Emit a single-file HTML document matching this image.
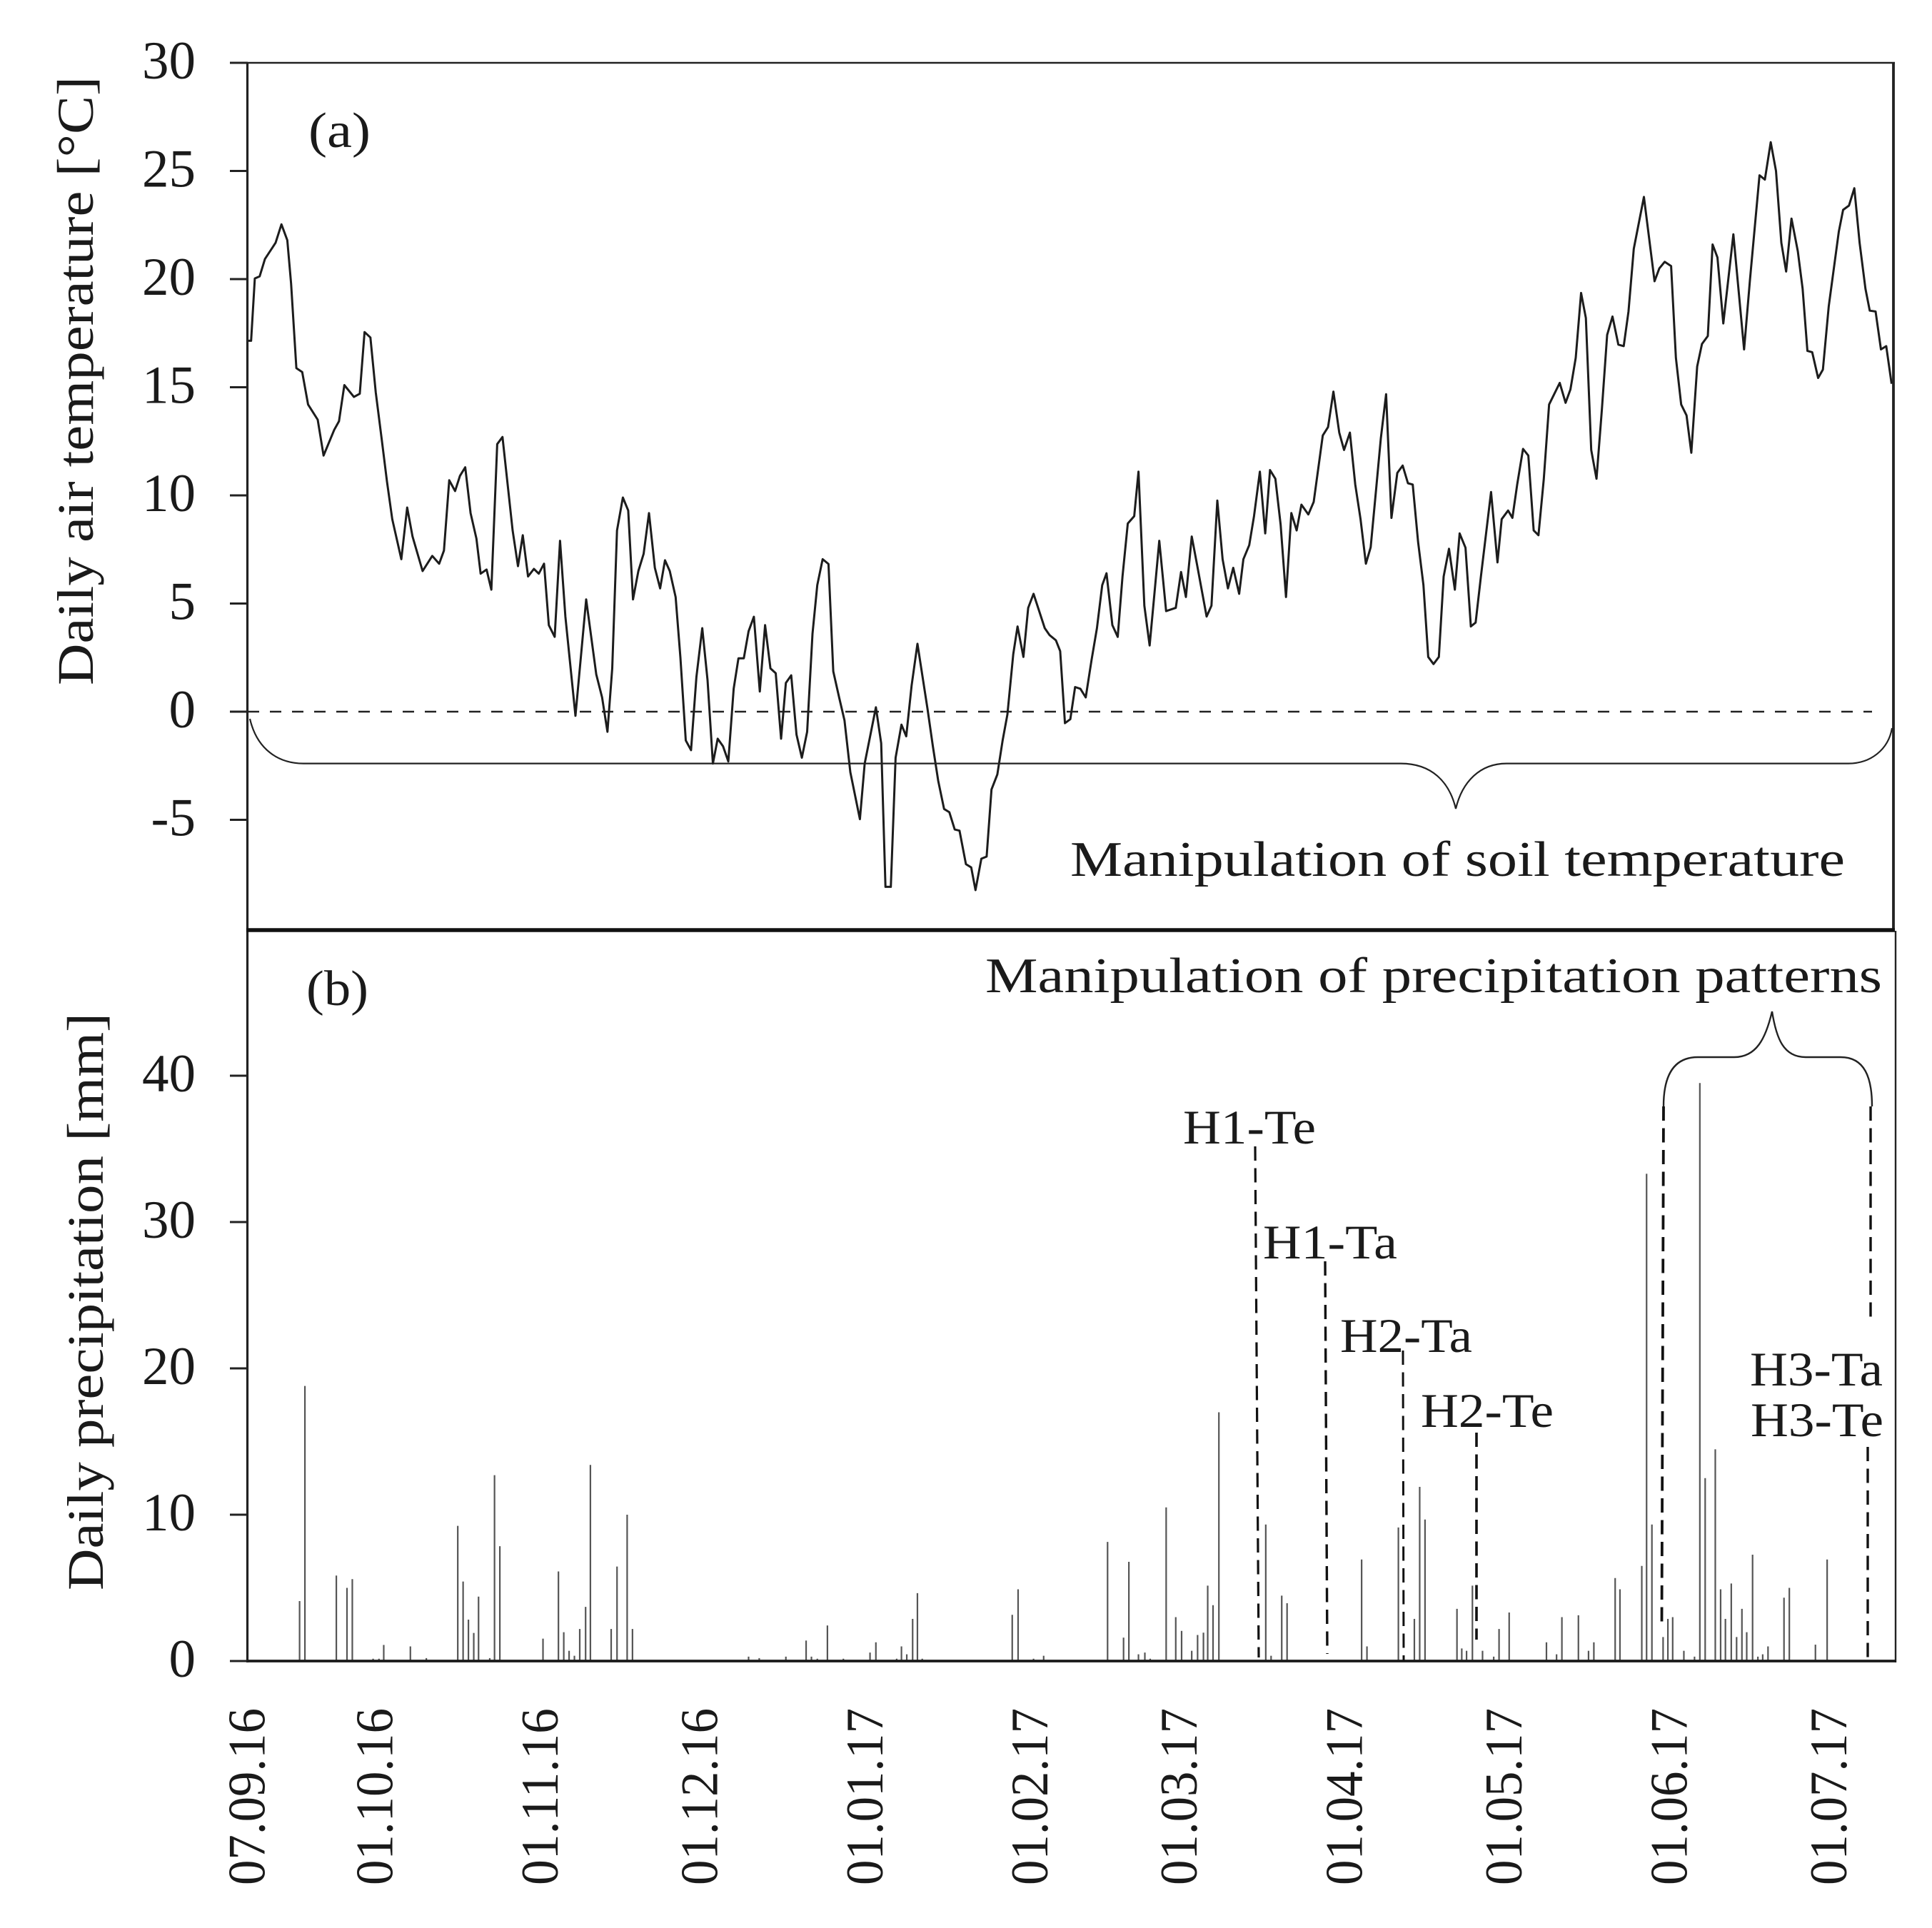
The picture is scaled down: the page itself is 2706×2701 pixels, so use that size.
<!DOCTYPE html>
<html lang="en">
<head>
<meta charset="utf-8">
<title>Daily air temperature and precipitation</title>
<style>
html,body{margin:0;padding:0;background:#fff;width:2706px;height:2701px;overflow:hidden}
svg{display:block;position:absolute;left:0;top:0}
text{font-family:"Liberation Serif",serif;fill:#1a1a1a}
</style>
</head>
<body>
<svg id="chart" xmlns="http://www.w3.org/2000/svg" width="2706" height="2701" viewBox="0 0 2706 2701">
  <rect x="0" y="0" width="2706" height="2701" fill="#fff"/>
  <g id="bars"></g>
  <line x1="347" y1="997" x2="2622" y2="997" stroke="#222" stroke-width="2.4" stroke-dasharray="16 15"/>
  <path id="temp-line" fill="none" stroke="#1c1c1c" stroke-width="3" stroke-linejoin="round"/>

  <g stroke="#222" fill="none">
    <line x1="345" y1="88" x2="2654" y2="88" stroke-width="2.6"/>
    <line x1="346.5" y1="87" x2="346.5" y2="2329" stroke-width="3.2"/>
    <line x1="2652" y1="87" x2="2652" y2="1304" stroke-width="3.8"/>
    <line x1="345" y1="1303" x2="2654" y2="1303" stroke-width="5.5" stroke="#111"/>
    <line x1="2655" y1="1304" x2="2655" y2="2329" stroke-width="2.4"/>
    <line x1="345" y1="2327" x2="2656" y2="2327" stroke-width="3.8" stroke="#1a1a1a"/>
  </g>

  <g id="ticks"></g>
  <g id="labels"></g>

  <text transform="translate(130,960) rotate(-90)" font-size="72" textLength="853" lengthAdjust="spacingAndGlyphs">Daily air temperature [°C]</text>
  <text transform="translate(144,2228) rotate(-90)" font-size="72" textLength="809" lengthAdjust="spacingAndGlyphs">Daily precipitation [mm]</text>

  <text x="432" y="206" font-size="70" textLength="87" lengthAdjust="spacingAndGlyphs">(a)</text>
  <text x="429" y="1408" font-size="70" textLength="87" lengthAdjust="spacingAndGlyphs">(b)</text>

  <path fill="none" stroke="#222" stroke-width="2.2" d="M350 1007 C360 1050 390 1069.6 425 1069.6 L1962 1069.6 C2005 1069.6 2030 1095 2039 1133 C2048 1095 2073 1069.6 2110 1069.6 L2589 1069.6 C2620 1069.6 2645 1050 2650 1020"/>
  <text x="1499" y="1227" font-size="70" textLength="1085" lengthAdjust="spacingAndGlyphs">Manipulation of soil temperature</text>

  <text x="1380" y="1390" font-size="70" textLength="1256" lengthAdjust="spacingAndGlyphs">Manipulation of precipitation patterns</text>
  <path fill="none" stroke="#222" stroke-width="2.4" d="M2330 1550 C2330 1510 2342 1481 2378 1481 L2429 1481 C2460 1481 2473 1455 2482 1417 C2488 1455 2498 1481 2529 1481 L2578 1481 C2612 1481 2622 1510 2622 1550"/>

  <g fill="none" stroke="#111" stroke-dasharray="20 10.5">
    <line x1="1758" y1="1606" x2="1763" y2="2322" stroke-width="3.2"/>
    <line x1="1856" y1="1767" x2="1859" y2="2317" stroke-width="3.4"/>
    <line x1="1965" y1="1892" x2="1966" y2="2327" stroke-width="3"/>
    <line x1="2068" y1="2007" x2="2068" y2="2297" stroke-width="3.6"/>
    <line x1="2330" y1="1550" x2="2327.5" y2="2273" stroke-width="3.8"/>
    <line x1="2620" y1="1550" x2="2620" y2="1851" stroke-width="3.4"/>
    <line x1="2616" y1="2027" x2="2616" y2="2326" stroke-width="3.4"/>
  </g>

  <g font-size="68">
    <text x="1657" y="1602" textLength="186" lengthAdjust="spacingAndGlyphs">H1-Te</text>
    <text x="1769" y="1763" textLength="188" lengthAdjust="spacingAndGlyphs">H1-Ta</text>
    <text x="1877" y="1894" textLength="185" lengthAdjust="spacingAndGlyphs">H2-Ta</text>
    <text x="1990" y="1999" textLength="186" lengthAdjust="spacingAndGlyphs">H2-Te</text>
    <text x="2451" y="1941" textLength="186" lengthAdjust="spacingAndGlyphs">H3-Ta</text>
    <text x="2452" y="2012" textLength="186" lengthAdjust="spacingAndGlyphs">H3-Te</text>
  </g>
</svg>

<script>
const tempDays = [0,0.7,1.4,2.3,3.3,5.3,6.4,7.5,8.2,9.2,10.3,11.4,13.2,14.3,16.3,17.2,18.2,20,21.1,22,23.1,24.1,25.2,26.2,27.2,28.9,30,31,32.9,34.7,36,36.9,37.9,39,39.9,40.9,41.9,43,43.8,44.9,45.8,46.9,47.9,49.8,50.8,51.7,52.7,53.8,54.7,55.7,56.6,57.7,58.7,59.7,61.6,63.6,65.5,66.6,67.6,68.5,69.4,70.5,71.5,72.4,73.4,74.4,75.4,76.5,77.5,78.4,79.3,80.4,81.3,82.3,83.3,84.3,85.4,86.4,87.4,88.3,89.3,90.3,91.3,92.2,93.2,94.1,95.1,96.2,97.2,98.2,99.2,100.2,101.1,102.1,103.1,104.1,105.1,106.1,107,108,109.1,110,111.1,112.1,113.2,115,115.9,118,119,119.8,120.8,121.7,122.8,123.7,124.7,125.8,127.7,128.7,129.7,130.8,131.8,132.8,133.7,134.9,135.9,136.7,137.8,138.8,139.7,140.8,141.8,142.7,143.8,144.6,145.7,146.6,147.6,149.7,150.6,151.8,152.6,153.5,154.5,155.4,156.4,157.4,158.5,159.5,160.5,161.3,162.4,163.4,164.3,165.3,166.5,167.3,168.4,169.4,170.3,171.2,172.5,174.3,175.3,176.2,177.3,178.3,180.1,181,182.1,183.1,184.1,185.1,186.2,187,188.1,189,190.1,191.1,192,193,194,195,196,197,197.9,199.2,200.2,201.9,202.9,203.9,205,205.9,207,208,209,210,210.9,211.9,212.8,213.8,214.8,215.9,216.9,217.9,218.8,219.8,220.8,221.7,222.7,223.7,224.6,225.6,226.7,227.6,228.7,229.7,230.6,231.6,233.5,234.7,235.5,236.7,237.5,238.4,239.5,240.5,241.5,242.4,243.4,244.4,246.4,247.5,248.4,249.4,250.4,251.3,252.3,253.3,254.3,255.3,256.3,257.4,258.4,259.3,260.3,262.2,264.2,265.1,266.1,267.3,268.2,269.2,270.2,271.1,272.2,273.1,274.2,275.1,276,277.1,279,281,282.1,283.9,284.9,286,287,288,288.9,289.9,291.1,292,292.9,293.8,294.9,295.8,296.9,298.8,299.6,300.7,301.7,302.7,303.8,304.6,305.7,306.7,307.7,308.7];
const tempValues = [17.15,17.15,20.03,20.13,20.93,21.68,22.53,21.8,19.8,15.88,15.7,14.2,13.5,11.84,13.03,13.43,15.1,14.55,14.7,17.55,17.3,14.76,12.63,10.64,8.9,7.05,9.44,8.1,6.5,7.2,6.84,7.45,10.7,10.2,10.9,11.3,9.18,8,6.38,6.57,5.64,12.37,12.7,8.38,6.73,8.16,6.25,6.6,6.38,6.84,4,3.46,7.9,4.39,-0.19,5.19,1.73,0.66,-0.93,2,8.38,9.9,9.3,5.19,6.5,7.3,9.18,6.65,5.7,7,6.5,5.3,2.5,-1.33,-1.78,1.6,3.86,1.46,-2.4,-1.25,-1.6,-2.3,1.06,2.47,2.47,3.72,4.39,0.93,4,2,1.78,-1.25,1.33,1.68,-1.06,-2.13,-0.93,3.6,5.85,7.05,6.83,1.86,0.66,-0.4,-2.8,-4.97,-2.4,0.2,-1.46,-8.1,-8.1,-2.13,-0.6,-1.14,1.2,3.14,0.13,-1.6,-3.2,-4.5,-4.65,-5.45,-5.5,-7.05,-7.2,-8.25,-6.8,-6.7,-3.6,-2.9,-1.33,-0.13,2.66,3.94,2.53,4.8,5.45,3.86,3.54,3.3,2.8,-0.53,-0.35,1.14,1.06,0.66,2.4,3.86,5.85,6.4,4,3.46,6.25,8.7,9.04,11.1,4.9,3.06,5.45,7.9,4.65,4.8,6.46,5.3,8.1,6.8,4.4,4.9,9.76,7.05,5.7,6.65,5.45,7.05,7.7,9.04,11.1,8.24,11.17,10.77,8.64,5.3,9.18,8.38,9.57,9.12,9.7,12.77,13.16,14.8,12.9,12.1,12.9,10.5,8.9,6.84,7.6,10.24,12.63,14.68,8.96,11.04,11.38,10.56,10.5,7.85,5.85,2.53,2.2,2.53,6.25,7.53,5.64,8.24,7.58,3.94,4.12,6.25,10.16,6.9,8.9,9.3,8.96,10.5,12.15,11.84,8.38,8.16,10.77,14.2,15.2,14.28,14.9,16.36,19.36,18.2,12.1,10.77,13.96,17.42,18.27,16.97,16.9,18.5,21.4,23.8,19.9,20.5,20.8,20.6,16.36,14.2,13.7,11.97,15.96,17,17.37,21.6,21,17.95,22.07,16.75,19.95,24.8,24.6,26.33,25,21.68,20.35,22.8,21.28,19.55,16.68,16.62,15.43,15.82,18.75,22.2,23.2,23.4,24.2,21.68,19.55,18.54,18.5,16.75,16.9,15.16];

const precipDays = [9.8,10.8,16.7,18.7,19.7,23.6,24.7,25.6,30.6,33.6,39.5,40.5,41.5,42.5,43.4,45.5,46.4,47.4,55.5,58.4,59.4,60.4,61.4,62.4,63.5,64.4,68.3,69.4,71.3,72.3,94.1,96.1,101.1,104.9,105.9,107,108.9,111.9,116.9,118,121.9,122.8,123.8,124.9,125.8,126.7,143.6,144.7,147.6,149.5,161.5,164.5,165.5,167.3,168.5,169.5,172.5,174.3,175.4,177.3,178.4,179.5,180.3,181.3,182.4,191.2,192.2,194.2,195.2,209.2,210.2,216.1,219.1,220.1,221.1,227.1,228,228.9,230,231.9,234,235,236.9,243.9,245.8,246.8,249.9,251.8,252.8,256.8,257.7,261.8,262.7,263.7,265.8,266.7,267.6,269.7,271.7,272.7,273.7,275.6,276.6,277.5,278.6,279.6,280.6,281.5,282.6,283.6,284.5,285.5,288.5,289.5,294.4,296.6];
const precipValues = [4.1,18.8,5.84,5,5.6,0.16,0.16,1.1,1,0.2,9.24,5.43,2.83,1.92,4.4,0.2,12.7,7.85,1.53,6.12,1.97,0.7,0.36,2.19,3.7,13.4,2.19,6.46,10,2.19,0.3,0.2,0.3,1.4,0.3,0.16,2.43,0.16,0.58,1.28,0.16,1,0.46,2.88,4.64,0.16,3.16,4.9,0.16,0.36,8.14,1.6,6.78,0.46,0.58,0.16,10.5,3,2.06,0.7,1.78,1.94,5.15,3.82,17,9.33,0.36,4.47,3.95,6.94,1,9.13,2.88,11.9,9.67,3.57,0.86,0.7,5.15,0.7,0.3,2.19,3.32,1.28,0.46,3,3.13,0.7,1.28,5.67,4.9,6.5,33.3,9.33,1.64,2.88,3,0.7,0.3,39.5,12.5,14.47,4.9,2.88,5.3,1.64,3.57,1.97,7.27,0.3,0.46,1,4.33,5,1.12,6.94];

const tempTicks = [30,25,20,15,10,5,0,-5];
const precipTicks = [40,30,20,10,0];
const dateLabels = ["07.09.16","01.10.16","01.11.16","01.12.16","01.01.17","01.02.17","01.03.17","01.04.17","01.05.17","01.06.17","01.07.17"];
const dateDays = [0,24,55,85,116,147,175,206,236,267,297];

const NS = 'http://www.w3.org/2000/svg';
function xDay(d){ return 346.5 + d * 7.46; }
function yTemp(v){ return 997 - v * 30.3; }
function yPrecip(v){ return 2327 - v * 20.5; }

const barsG = document.getElementById('bars');
const ticksG = document.getElementById('ticks');
const labelsG = document.getElementById('labels');

precipDays.forEach(function(d, i){
  const b = document.createElementNS(NS, 'line');
  
  
  b.setAttribute('x1', xDay(d));
  b.setAttribute('x2', xDay(d));
  b.setAttribute('y1', yPrecip(0));
  b.setAttribute('y2', yPrecip(precipValues[i]));
  b.setAttribute('stroke', '#555');
  b.setAttribute('stroke-width', '2.2');
  barsG.appendChild(b);
});

const tempPath = tempDays.map(function(d, i){
  return (i ? 'L' : 'M') + xDay(d).toFixed(1) + ' ' + yTemp(tempValues[i]).toFixed(1);
}).join(' ');
document.getElementById('temp-line').setAttribute('d', tempPath);

function addTick(y, value, axis){
  const t = document.createElementNS(NS, 'line');
  
  
  t.setAttribute('x1', 322);
  t.setAttribute('x2', 347);
  t.setAttribute('y1', y);
  t.setAttribute('y2', y);
  t.setAttribute('stroke', '#222');
  t.setAttribute('stroke-width', '3');
  ticksG.appendChild(t);
  const l = document.createElementNS(NS, 'text');
  
  
  l.setAttribute('x', 274);
  l.setAttribute('y', y + 22);
  l.setAttribute('text-anchor', 'end');
  l.setAttribute('font-size', '75');
  l.textContent = String(value);
  labelsG.appendChild(l);
}
tempTicks.forEach(function(v){ addTick(yTemp(v), v, 'temperature'); });
precipTicks.forEach(function(v){ addTick(yPrecip(v), v, 'precipitation'); });

dateLabels.forEach(function(s, i){
  const l = document.createElementNS(NS, 'text');
  
  
  l.setAttribute('transform', 'translate(' + (xDay(dateDays[i]) + 24) + ',2641) rotate(-90)');
  l.setAttribute('font-size', '74');
  l.setAttribute('textLength', '248');
  l.setAttribute('lengthAdjust', 'spacingAndGlyphs');
  l.textContent = s;
  labelsG.appendChild(l);
});
</script>
</body>
</html>
